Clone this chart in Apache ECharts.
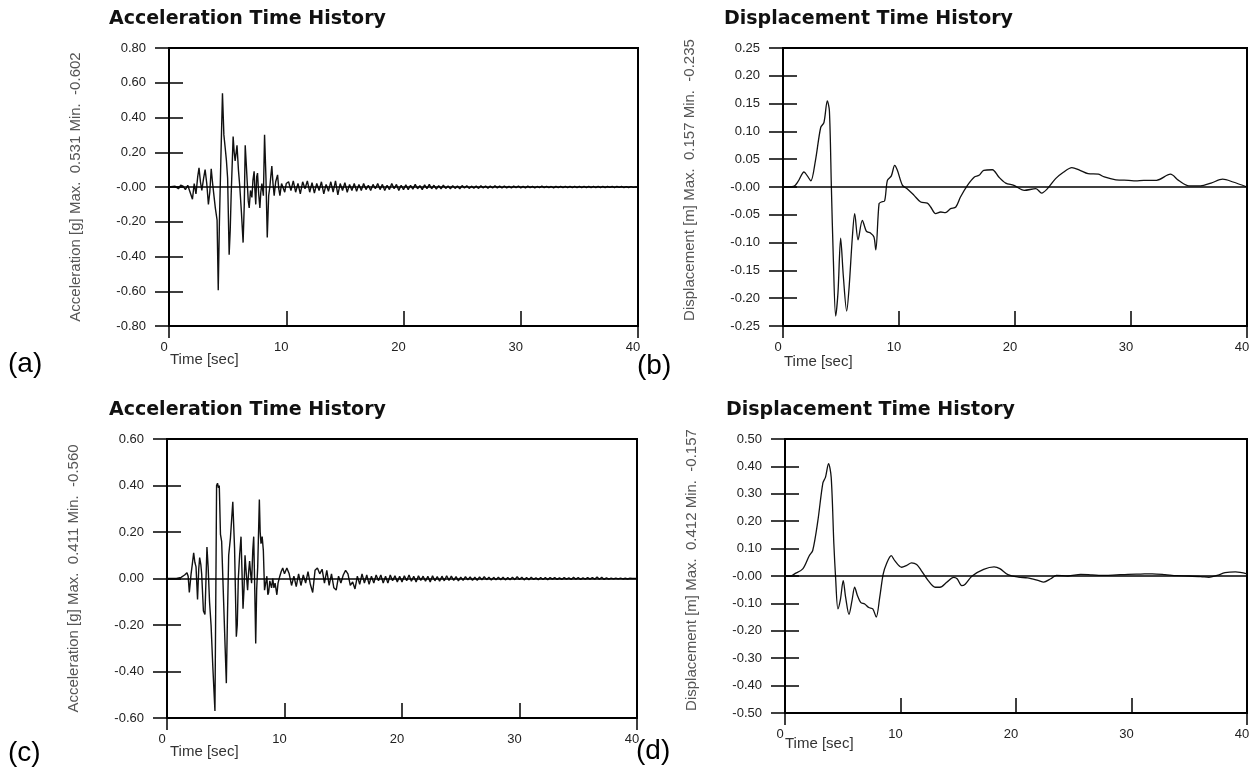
<!DOCTYPE html>
<html>
<head>
<meta charset="utf-8">
<script src="https://cdn.jsdelivr.net/npm/echarts@6.0.0/dist/echarts.min.js"></script>
<style>
  html, body { margin: 0; padding: 0; background: #fff; }
  #chart { width: 1252px; height: 771px; }
</style>
</head>
<body>
<div id="chart"></div>
<script>
// ---------------- DATA ----------------
// (a) Acceleration, record 1: strong-motion part [time s, accel g]
const accA_main = [[0,0],[0.5,0.005],[0.8,-0.01],[1.0,0.01],[1.2,0.005],[1.4,-0.015],[1.6,0.01],[1.8,-0.03],[2.0,-0.07],[2.15,0.02],[2.3,-0.04],[2.45,0.06],[2.56,0.11],[2.68,0.03],[2.8,-0.02],[2.95,0.05],[3.08,0.10],[3.22,0.02],[3.36,-0.10],[3.48,-0.03],[3.6,0.105],[3.72,0.02],[3.85,-0.06],[3.95,-0.12],[4.1,-0.19],[4.2,-0.594],[4.3,-0.2],[4.42,0.15],[4.56,0.54],[4.68,0.3],[4.8,0.22],[4.9,0.15],[5.0,0.05],[5.13,-0.39],[5.22,-0.25],[5.3,-0.05],[5.47,0.29],[5.56,0.2],[5.64,0.15],[5.8,0.24],[5.92,0.1],[6.04,0],[6.18,-0.15],[6.32,-0.32],[6.42,-0.1],[6.5,0.24],[6.6,0.12],[6.67,0.03],[6.76,-0.08],[6.84,-0.12],[6.95,-0.02],[7.07,-0.06],[7.16,0.04],[7.26,0.09],[7.33,-0.02],[7.4,-0.10],[7.48,0.06],[7.55,0.08],[7.65,-0.04],[7.75,-0.12],[7.83,-0.03],[7.92,0.02],[8.05,-0.05],[8.15,0.30],[8.27,0.05],[8.38,-0.29],[8.5,-0.05],[8.6,0.0],[8.68,0.06],[8.77,0.12],[8.87,0.02],[8.97,-0.05],[9.1,0.03],[9.26,0.07],[9.36,-0.01],[9.46,-0.05],[9.6,0.02],[9.74,0.015],[9.87,-0.03],[10.0,0.02]];
// (a) tail: values every 0.2 s from 10.2 s to 40.0 s
const accA_tail = [
  0.03,-0.02,0.035,-0.03,0.02,-0.04,0.03,-0.01,0.035,-0.03,
  0.025,-0.035,0.02,-0.02,0.03,-0.04,0.015,-0.025,0.03,-0.03,
  0.035,-0.045,0.02,-0.02,0.025,-0.03,0.015,-0.02,0.02,-0.025,
  0.015,-0.02,0.02,-0.015,0.01,-0.02,0.015,-0.01,0.02,-0.015,
  0.015,-0.02,0.01,-0.015,0.02,-0.01,0.015,-0.02,0.01,-0.015,
  0.012,-0.015,0.01,-0.012,0.015,-0.01,0.008,-0.015,0.012,-0.01,
  0.015,-0.01,0.01,-0.012,0.008,-0.01,0.01,-0.008,0.006,-0.01,
  0.008,-0.008,0.006,-0.01,0.008,-0.006,0.007,-0.008,0.005,-0.007,
  0.006,-0.008,0.007,-0.005,0.006,-0.007,0.005,-0.006,0.007,-0.005,
  0.005,-0.006,0.006,-0.005,0.004,-0.006,0.005,-0.004,0.006,-0.005,
  0.004,-0.005,0.005,-0.004,0.004,-0.005,0.003,-0.004,0.005,-0.004,
  0.004,-0.004,0.003,-0.005,0.004,-0.003,0.004,-0.004,0.003,-0.004,
  0.003,-0.004,0.004,-0.003,0.003,-0.004,0.003,-0.003,0.004,-0.003,
  0.003,-0.003,0.004,-0.003,0.003,-0.004,0.003,-0.002,0.003,-0.003,
  0.003,-0.002,0.003,-0.003,0.002,-0.003,0.002,-0.002,0.001,0
];

// (b) Displacement, record 1 [time s, disp m]
const dispB = [[0,0],[0.9,0.001],[1.3,0.01],[1.81,0.027],[2.1,0.02],[2.4,0.011],[2.8,0.048],[3.25,0.107],[3.53,0.116],[3.82,0.155],[4.0,0.137],[4.17,0],[4.34,-0.13],[4.54,-0.232],[4.74,-0.19],[4.97,-0.092],[5.2,-0.16],[5.49,-0.223],[5.7,-0.18],[5.98,-0.09],[6.18,-0.048],[6.47,-0.095],[6.84,-0.06],[7.2,-0.08],[7.56,-0.083],[7.84,-0.09],[8.0,-0.113],[8.28,-0.03],[8.48,-0.027],[8.76,-0.025],[9.0,0.012],[9.34,0.02],[9.63,0.039],[9.86,0.03],[10.3,0.003],[10.7,-0.003],[11.3,-0.015],[11.87,-0.027],[12.44,-0.029],[12.73,-0.036],[13.16,-0.048],[13.6,-0.045],[14.0,-0.046],[14.45,-0.039],[14.9,-0.036],[15.3,-0.018],[15.9,0.003],[16.5,0.018],[16.9,0.021],[17.3,0.03],[18.05,0.031],[18.6,0.018],[19.2,0.007],[19.9,0.003],[20.8,-0.006],[21.8,-0.003],[22.3,-0.011],[22.8,-0.003],[23.5,0.015],[24.2,0.027],[24.9,0.035],[25.6,0.03],[26.3,0.024],[27.2,0.023],[27.7,0.018],[28.7,0.013],[29.8,0.012],[30.4,0.011],[31.1,0.012],[32.2,0.012],[33.4,0.023],[34.1,0.012],[35.0,0.002],[36.0,0.002],[36.9,0.007],[37.9,0.014],[38.8,0.009],[40,0]];

// (c) Acceleration, record 2: strong-motion part
const accC_main = [[0,0],[0.8,0],[1.2,0.005],[1.5,0.015],[1.7,0.025],[1.8,0.01],[1.9,-0.06],[2.05,0.02],[2.15,0.06],[2.27,0.11],[2.37,0.07],[2.47,0.05],[2.6,-0.09],[2.7,0.04],[2.78,0.09],[2.88,0.06],[2.95,0.02],[3.1,-0.14],[3.23,-0.155],[3.4,0.135],[3.5,0.05],[3.62,-0.1],[3.75,-0.2],[3.9,-0.38],[4.08,-0.57],[4.15,-0.1],[4.22,0.4],[4.3,0.41],[4.38,0.39],[4.45,0.4],[4.55,0.19],[4.65,0.16],[4.82,-0.1],[4.95,-0.3],[5.05,-0.45],[5.15,-0.15],[5.25,0.1],[5.4,0.175],[5.6,0.33],[5.75,0.13],[5.9,-0.25],[5.98,-0.2],[6.07,0.0],[6.18,0.1],[6.3,0.18],[6.47,-0.13],[6.55,-0.05],[6.64,0.10],[6.75,0.02],[6.86,-0.05],[6.95,0.03],[7.03,0.075],[7.12,0.02],[7.2,-0.02],[7.3,0.12],[7.38,0.18],[7.47,-0.05],[7.55,-0.28],[7.63,-0.05],[7.72,0.05],[7.86,0.34],[7.93,0.2],[8.0,0.15],[8.1,0.18],[8.2,0.12],[8.3,-0.05],[8.4,-0.02],[8.5,0.01],[8.58,-0.07],[8.65,-0.06],[8.75,-0.01],[8.9,-0.04],[9.0,0.0],[9.1,-0.04],[9.2,-0.02],[9.35,-0.07],[9.45,-0.02],[9.6,0.01],[9.72,0.03],[9.85,0.045],[10.0,0.02]];
// (c) tail: values every 0.2 s from 10.2 s to 40.0 s
const accC_tail = [
  0.045,0.02,-0.03,0.01,-0.035,0.02,-0.03,0.015,-0.02,0.03,
  -0.025,-0.06,0.035,0.045,0.02,0.04,-0.02,0.035,-0.03,0.02,
  -0.04,-0.05,0.01,-0.02,0.015,0.035,0.02,-0.03,-0.015,-0.045,
  0.01,-0.025,0.02,-0.02,0.015,-0.025,0.01,-0.02,0.015,-0.01,
  0.015,-0.02,0.01,-0.02,0.015,-0.01,0.012,-0.015,0.01,-0.015,
  0.012,-0.01,0.015,-0.012,0.01,-0.015,0.012,-0.008,0.01,-0.012,
  0.01,-0.015,0.012,-0.01,0.008,-0.012,0.01,-0.01,0.012,-0.008,
  0.01,-0.008,0.008,-0.01,0.006,-0.008,0.008,-0.006,0.007,-0.008,
  0.006,-0.008,0.007,-0.006,0.008,-0.005,0.006,-0.007,0.005,-0.006,
  0.006,-0.005,0.005,-0.006,0.004,-0.005,0.006,-0.005,0.008,-0.004,
  0.005,-0.006,0.004,-0.005,0.005,-0.004,0.003,-0.005,0.004,-0.004,
  0.004,-0.005,0.004,-0.003,0.004,-0.004,0.003,-0.004,0.004,-0.003,
  0.003,-0.004,0.005,-0.003,0.004,-0.004,0.003,-0.003,0.004,-0.003,
  0.004,-0.003,0.006,-0.003,0.005,-0.004,0.003,-0.003,0.002,-0.002,
  0.002,-0.002,0.002,-0.002,0.001,-0.002,0.001,0,0,0
];

// (d) Displacement, record 2
const dispD = [[0,0],[0.5,0],[0.8,0.007],[1.54,0.026],[2.1,0.074],[2.4,0.093],[2.84,0.2],[3.28,0.34],[3.5,0.36],[3.77,0.41],[4.0,0.36],[4.23,0.117],[4.38,-0.005],[4.58,-0.12],[4.8,-0.085],[5.04,-0.017],[5.25,-0.078],[5.54,-0.14],[5.8,-0.09],[6.03,-0.041],[6.26,-0.07],[6.55,-0.096],[6.9,-0.102],[7.25,-0.115],[7.6,-0.12],[7.9,-0.15],[8.2,-0.078],[8.5,0.007],[8.78,0.044],[9.2,0.074],[9.5,0.056],[10.1,0.032],[10.5,0.038],[10.96,0.048],[11.4,0.042],[11.8,0.02],[12.4,-0.017],[13.0,-0.041],[13.42,-0.041],[14.0,-0.023],[14.6,-0.005],[14.9,-0.01],[15.3,-0.035],[15.6,-0.03],[16.2,0],[17.2,0.024],[18.1,0.033],[18.6,0.027],[19.3,0.005],[20.2,-0.004],[21.0,-0.007],[21.9,-0.016],[22.4,-0.022],[23.0,-0.01],[23.5,0.002],[24.5,0],[25.6,0.006],[26.6,0.004],[27.7,0.002],[28.7,0.004],[29.7,0.006],[30.8,0.007],[31.8,0.008],[32.9,0.005],[33.9,0.001],[34.96,0],[36.0,-0.002],[36.7,-0.005],[37.4,0.002],[38.1,0.012],[39.0,0.015],[40,0.008]];

// Tick labels
const xTickLabels = ['0','10','20','30','40'];
const yTicksA = ['-0.80','-0.60','-0.40','-0.20','-0.00','0.20','0.40','0.60','0.80'];
const yTicksB = ['-0.25','-0.20','-0.15','-0.10','-0.05','-0.00','0.05','0.10','0.15','0.20','0.25'];
const yTicksC = ['-0.60','-0.40','-0.20','0.00','0.20','0.40','0.60'];
const yTicksD = ['-0.50','-0.40','-0.30','-0.20','-0.10','-0.00','0.10','0.20','0.30','0.40','0.50'];

const titles = ['Acceleration Time History','Displacement Time History','Acceleration Time History','Displacement Time History'];
const yNames = ['Acceleration [g] Max.  0.531 Min.  -0.602','Displacement [m] Max.  0.157 Min.  -0.235','Acceleration [g] Max.  0.411 Min.  -0.560','Displacement [m] Max.  0.412 Min.  -0.157'];
const panelLetters = ['(a)','(b)','(c)','(d)'];
const xName = 'Time [sec]';

// ---------------- BUILD ----------------
function withTail(main, tail) {
  const out = main.slice();
  tail.forEach((v, i) => out.push([Math.round((10 + 0.2 * (i + 1)) * 10) / 10, v]));
  return out;
}

const panels = [
  { grid: {left:169, top:48, width:469, height:278}, min:-0.8, max:0.8, step:0.2, ticks:yTicksA, data: withTail(accA_main, accA_tail), smooth:false, w:1.4,
    title:{left:109, top:10}, letter:{left:8, top:350}, xname:{left:170, top:352}, namePad:[0,0,0,0] },
  { grid: {left:783, top:48, width:464, height:278}, min:-0.25, max:0.25, step:0.05, ticks:yTicksB, data: dispB, smooth:0.3, w:1.3,
    title:{left:724, top:10}, letter:{left:637, top:352}, xname:{left:784, top:354}, namePad:[0,0,0,14] },
  { grid: {left:167, top:439, width:470, height:279}, min:-0.6, max:0.6, step:0.2, ticks:yTicksC, data: withTail(accC_main, accC_tail), smooth:false, w:1.4,
    title:{left:109, top:401}, letter:{left:8, top:739}, xname:{left:170, top:744}, namePad:[0,0,0,0] },
  { grid: {left:785, top:439, width:462, height:274}, min:-0.5, max:0.5, step:0.1, ticks:yTicksD, data: dispD, smooth:0.3, w:1.3,
    title:{left:726, top:401}, letter:{left:636, top:737}, xname:{left:785, top:736}, namePad:[0,0,0,12] }
];

const labelFont = 'Liberation Sans, Arial, sans-serif';
const option = {
  animation: false,
  backgroundColor: '#ffffff',
  title: [], grid: [], xAxis: [], yAxis: [], series: []
};

panels.forEach((p, i) => {
  option.grid.push(Object.assign({ show: true, borderColor: '#000', borderWidth: 2, backgroundColor: 'transparent', containLabel: false, outerBoundsMode: 'none' }, p.grid));
  // main x axis: inner ticks + labels
  option.xAxis.push({
    type: 'value', gridIndex: i, position: 'bottom', min: 0, max: 40, interval: 10,
    axisLine: { show: false, onZero: false }, splitLine: { show: false },
    axisTick: { show: true, inside: true, length: 15, lineStyle: { color: '#000', width: 1.5 } },
    axisLabel: { show: true, margin: 15, fontSize: 13, fontFamily: labelFont, color: '#222', align: 'center', padding: [0, 10, 0, 0],
      formatter: v => xTickLabels[Math.round(v / 10)] }
  });
  // second x axis: outer ticks at both ends
  option.xAxis.push({
    type: 'value', gridIndex: i, position: 'bottom', min: 0, max: 40, interval: 40,
    axisLine: { show: false, onZero: false }, splitLine: { show: false }, axisLabel: { show: false },
    axisTick: { show: true, inside: false, length: 12, lineStyle: { color: '#000', width: 1.5 } }
  });
  option.yAxis.push({
    type: 'value', gridIndex: i, position: 'left', offset: -14, min: p.min, max: p.max, interval: p.step,
    axisLine: { show: false, onZero: false }, splitLine: { show: false },
    axisTick: { show: true, inside: false, length: 28, lineStyle: { color: '#000', width: 1.5 } },
    axisLabel: { show: true, margin: 37, fontSize: 13, fontFamily: labelFont, color: '#222',
      formatter: v => p.ticks[Math.round((v - p.min) / p.step)] },
    name: yNames[i], nameLocation: 'middle', nameGap: 100, nameMoveOverlap: false,
    nameTextStyle: { fontSize: 15, fontFamily: labelFont, color: '#555', padding: p.namePad }
  });
  option.series.push({
    type: 'line', xAxisIndex: i * 2, yAxisIndex: i, data: p.data, symbol: 'none', showSymbol: false,
    smooth: p.smooth, lineStyle: { color: '#111', width: p.w }, silent: true, z: 3,
    markLine: { silent: true, symbol: 'none', label: { show: false }, animation: false,
      lineStyle: { color: '#000', width: 1.5, type: 'solid' }, data: [{ yAxis: 0 }] }
  });
  option.title.push({ text: titles[i], left: p.title.left, top: p.title.top, padding: 0,
    textStyle: { fontFamily: 'DejaVu Sans, Verdana, sans-serif', fontWeight: 'bold', fontSize: 19, color: '#111' } });
  option.title.push({ text: panelLetters[i], left: p.letter.left, top: p.letter.top, padding: 0,
    textStyle: { fontFamily: labelFont, fontWeight: 'normal', fontSize: 28, color: '#000' } });
  option.title.push({ text: xName, left: p.xname.left, top: p.xname.top, padding: 0,
    textStyle: { fontFamily: labelFont, fontWeight: 'normal', fontSize: 15, color: '#333' } });
});

const chart = echarts.init(document.getElementById('chart'), null, { renderer: 'canvas' });
chart.setOption(option);
</script>
</body>
</html>
